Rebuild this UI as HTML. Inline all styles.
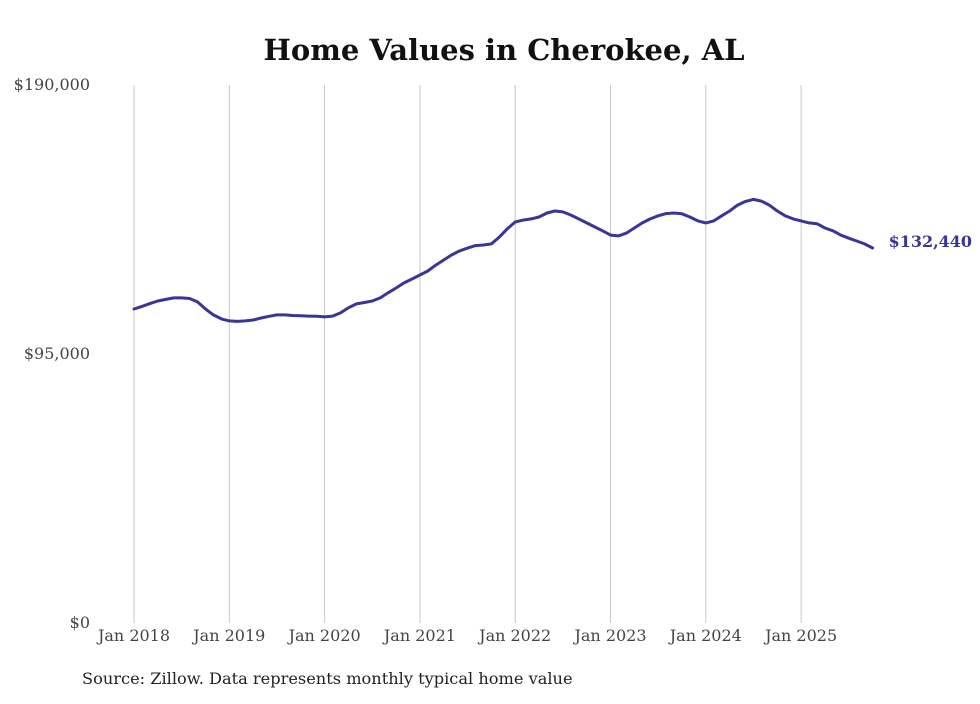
<!DOCTYPE html>
<html><head><meta charset="utf-8"><style>
body{margin:0;background:#fff;width:980px;height:699px;overflow:hidden}
svg text{font-family:"DejaVu Serif","Liberation Serif",serif}
</style></head><body>
<svg width="980" height="699">
<text x="504" y="60" text-anchor="middle" font-size="29" font-weight="bold" fill="#111">Home Values in Cherokee, AL</text>
<g id="grid"></g><g id="axes"></g><g id="plot"></g>
<text x="82" y="684" font-size="16.2" fill="#222">Source: Zillow. Data represents monthly typical home value</text>
</svg>
<script>
const yTicks=[0,95000,190000];
const yTickLabels=["$0","$95,000","$190,000"];
const xYears=[2018,2019,2020,2021,2022,2023,2024,2025];
const xTickLabels=["Jan 2018","Jan 2019","Jan 2020","Jan 2021","Jan 2022","Jan 2023","Jan 2024","Jan 2025"];
const values=[
110900,111800,112800,113700,114300,114800,114800,114600,113400,110900,108800,107400,
106700,106500,106700,107000,107700,108300,108800,108800,108600,108500,108400,108300,
108100,108400,109500,111300,112700,113200,113700,114800,116600,118300,120100,121500,
122900,124300,126400,128200,130000,131400,132400,133300,133500,133900,136300,139200,
141600,142300,142700,143400,144800,145500,145200,144100,142700,141300,139900,138500,
137000,136700,137700,139500,141300,142700,143800,144600,144800,144500,143400,142000,
141300,142000,143800,145500,147600,148900,149600,149000,147600,145500,143800,142700,
142000,141300,141000,139500,138500,137000,135900,134900,133900,132440];
const endLabel="$132,440";
const NS="http://www.w3.org/2000/svg";
const x0=134,pxYear=95.3,yBase=623,yTop=85,yMax=190000;
const X=m=>x0+m*pxYear/12;
const Y=v=>yBase-(v/yMax)*(yBase-yTop);
function mk(t,a,p){const e=document.createElementNS(NS,t);for(const k in a)e.setAttribute(k,a[k]);p.appendChild(e);return e;}
const grid=document.getElementById('grid'),axes=document.getElementById('axes'),plot=document.getElementById('plot');
xYears.forEach((yr,i)=>{
 const x=X((yr-2018)*12);
 const l=mk('line',{x1:x,x2:x,y1:yTop,y2:yBase,stroke:'#c8c8c8','stroke-width':1},grid);
 
 
 const t=mk('text',{x:x,y:641,'text-anchor':'middle','font-size':16,fill:'#444'},axes);
 t.textContent=xTickLabels[i];
 
 
});
yTicks.forEach((v,i)=>{
 const t=mk('text',{x:90,y:Y(v)+5,'text-anchor':'end','font-size':16,fill:'#444'},axes);
 t.textContent=yTickLabels[i];
 
 
});
const d=values.map((v,i)=>(i?'L':'M')+X(i).toFixed(1)+','+Y(v).toFixed(1)).join('');
const p=mk('path',{d:d,fill:'none',stroke:'#3a3596','stroke-width':3,'stroke-linejoin':'round','stroke-linecap':'round'},plot);


const li=values.length-1;
const el=mk('text',{x:X(li)+16,y:Y(values[li])-1,'font-size':16,'font-weight':'bold',fill:'#3a3596'},plot);
el.textContent=endLabel;


</script>
</body></html>
